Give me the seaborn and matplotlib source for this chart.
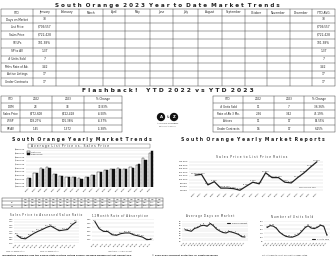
import matplotlib
matplotlib.use("Agg")
import matplotlib.pyplot as plt
from matplotlib.patches import Circle
from matplotlib.ticker import FuncFormatter
import pandas as pd
import seaborn as sns

sns.set_theme(style="whitegrid", context="paper")
plt.rcParams["font.family"] = ["DejaVu Sans"]

# ---- data ----
months = ["January", "February", "March", "April", "May", "June", "July",
          "August", "September", "October", "November", "December"]
ytd_rows = ["Days on Market", "List Price", "Sales Price", "SP/LPs", "SP to AV",
            "# Units Sold", "Mths Rate of Ab.", "Active Listings", "Under Contracts"]
jan_values = ["38", "$709,557", "$722,428", "101.38%", "1.37", "7", "3.42", "17", "17"]

flash_left = [["DOM", "28", "38", "33.83%"],
              ["Sales Price", "$772,608", "$722,428", "-6.50%"],
              ["LP/SP", "108.27%", "101.38%", "-6.37%"],
              ["SP:AV", "1.45", "1.372", "-5.38%"]]
flash_right = [["# Units Sold", "11", "7", "-36.36%"],
               ["Rate of Ab 3 Mo.", "2.36", "3.42", "45.19%"],
               ["Actives", "11", "17", "54.55%"],
               ["Under Contracts", "16", "17", "6.25%"]]

years = [str(y) for y in range(2003, 2023)]
list_price = [525000, 590000, 660000, 665000, 580000, 548000, 540000, 538000, 515000, 535000,
              562000, 600000, 630000, 650000, 655000, 645000, 665000, 695000, 790000, 860000]
sale_price = [520000, 585000, 650000, 660000, 570000, 542000, 535000, 530000, 505000, 530000,
              556000, 596000, 625000, 646000, 650000, 640000, 660000, 705000, 760000, 890000]

spav_years = [str(y) for y in range(2008, 2023)]
sp_av = [0.96, 0.86, 0.84, 0.93, 1.02, 1.09, 1.15, 1.22, 1.27, 1.19, 1.11, 1.13, 1.15, 1.30, 1.40]

abs_years = [str(y) for y in range(2009, 2023)]
absorption = [4.21, 3.35, 3.02, 3.00, 2.62, 2.55, 2.75, 2.83, 2.83, 2.60, 2.48, 2.34, 2.03, 2.08]

sp_lp = [102.5, 102.9, 97.0, 98.8, 95.2, 95.2, 94.9, 94.0, 96.3, 98.5,
         97.6, 103.8, 101.1, 101.1, 98.5, 98.1, 101.1, 103.8, 107.0, 110.0]
dom = [55, 52, 49, 60, 64, 71, 73, 69, 80, 71, 58, 50, 44, 42, 48, 45, 41, 36, 27, 26]
units = [218, 242, 236, 208, 160, 130, 108, 100, 98, 112,
         130, 170, 215, 240, 212, 205, 222, 248, 232, 120]

W, H = 336, 259
fig = plt.figure(figsize=(W / 100, H / 100), dpi=100)
bg = fig.add_axes([0, 0, 1, 1])
bg.set_xlim(0, W)
bg.set_ylim(H, 0)
bg.axis("off")


def rect(x0, y0, x1, y1):
    return [x0 / W, 1 - y1 / H, (x1 - x0) / W, (y1 - y0) / H]


def spaced(s):
    return "  ".join(" ".join(w) for w in s.split(" "))


def grid_table(xs, ys, cells, fs):
    for x in xs:
        bg.plot([x, x], [ys[0], ys[-1]], color="#444", lw=0.35)
    for y in ys:
        bg.plot([xs[0], xs[-1]], [y, y], color="#444", lw=0.35)
    for i, row in enumerate(cells):
        for j, t in enumerate(row):
            bg.text((xs[j] + xs[j + 1]) / 2, (ys[i] + ys[i + 1]) / 2, t,
                    ha="center", va="center", fontsize=fs, color="#222")


# ---- headline table ----
bg.text(167, 5, spaced("South Orange 2023 Year to Date Market Trends"),
        ha="center", va="center", fontsize=4.1, fontweight="bold", color="#222")
xs1 = [1, 33, 56, 79, 103, 125, 150, 173, 198, 222, 245, 267, 290, 312, 335]
ys1 = [9, 16, 23, 31, 39, 47.5, 55.5, 63, 70.5, 78, 85.5]
cells1 = [["YTD"] + months + ["YTD AVG."]]
for name, v in zip(ytd_rows, jan_values):
    cells1.append([name, v] + [""] * 11 + [v])
grid_table(xs1, ys1, cells1, 2.1)

# ---- flashback ----
bg.text(168, 91, spaced("Flashback!  YTD 2022 vs YTD 2023"),
        ha="center", va="center", fontsize=4.3, fontweight="bold", color="#222")
head = ["YTD", "2022", "2023", "% Change"]
ysf = [95.5, 103, 110, 117.5, 125, 132]
grid_table([1, 20, 52, 84, 122], ysf, [head] + flash_left, 2.0)
grid_table([213, 243, 274, 304, 335], ysf, [head] + flash_right, 2.0)

# logo
for cx, letter in [(161, "A"), (174, "Z")]:
    bg.add_patch(Circle((cx, 117), 3.6, color="#111"))
    bg.text(cx, 117, letter, ha="center", va="center", fontsize=2.8,
            color="white", fontweight="bold")
bg.text(167.5, 117, "&", ha="center", va="center", fontsize=2, color="#111")
bg.text(167.5, 123.5, "ALLISON ZIEGERT", ha="center", va="center", fontsize=1.7, color="#333")
bg.text(167.5, 126, "REAL ESTATE GROUP", ha="center", va="center", fontsize=1.2, color="#555")

bg.text(82, 139, spaced("South Orange Yearly Market Trends"),
        ha="center", va="center", fontsize=3.3, fontweight="bold", color="#222")
bg.text(253, 139, spaced("South Orange Yearly Market Reports"),
        ha="center", va="center", fontsize=3.3, fontweight="bold", color="#222")


def style(ax, fs=1.4):
    ax.set_xlabel("")
    ax.set_ylabel("")
    ax.tick_params(axis="both", labelsize=fs, length=0, pad=0.5)
    ax.tick_params(axis="x", rotation=45)
    for lab in ax.get_xticklabels():
        lab.set_ha("right")
        lab.set_rotation_mode("anchor")
    ax.grid(axis="y", color="#d0d0d0", lw=0.3)
    ax.grid(axis="x", visible=False)
    for s in ax.spines.values():
        s.set_visible(False)
    ax.set_facecolor("white")


# ---- bar chart ----
ax1 = fig.add_axes(rect(26, 150, 154, 187))
df = pd.DataFrame({"year": years * 2,
                   "price": list_price + sale_price,
                   "kind": ["List Price"] * len(years) + ["Sales Price"] * len(years)})
sns.barplot(data=df, x="year", y="price", hue="kind", ax=ax1,
            palette={"List Price": "white", "Sales Price": "#111"},
            edgecolor="#111", linewidth=0.3, width=0.7)
ax1.set_ylim(400000, 900000)
ax1.set_yticks(range(400000, 900001, 50000))
ax1.yaxis.set_major_formatter(FuncFormatter(lambda v, p: f"${v:,.0f}"))
style(ax1, 1.5)
ax1.legend(loc="upper left", fontsize=1.5, frameon=False, handlelength=1, handleheight=0.6,
           borderpad=0.2, labelspacing=0.2)
bg.text(70, 145.5, spaced("Average List Price vs. Sales Price"), ha="center", va="center",
        fontsize=2.2, color="#333")
bg.add_patch(plt.Rectangle((28, 143.5), 122, 4, fill=False, lw=0.3, ec="#555"))

# table under bar chart
xs_t = [2, 22] + [22 + 7.05 * (i + 1) for i in range(len(years))]
ys_t = [197.5, 201, 204.5, 208]
cells_t = [[""] + years,
           ["List"] + [f"${v // 1000}k" for v in list_price],
           ["Sale"] + [f"${v // 1000}k" for v in sale_price]]
grid_table(xs_t, ys_t, cells_t, 1.0)

# ---- SP to AV ----
ax2 = fig.add_axes(rect(14, 219, 79, 243))
sns.lineplot(x=spav_years, y=sp_av, ax=ax2, color="#222", lw=0.8)
for i, v in enumerate(sp_av):
    ax2.text(i, v + 0.03, f"{v:.2f}", fontsize=1.2, ha="center", color="#333")
ax2.set_ylim(0.70, 1.50)
ax2.set_yticks([0.7, 0.8, 0.9, 1.0, 1.1, 1.2, 1.3, 1.4, 1.5])
ax2.yaxis.set_major_formatter(FuncFormatter(lambda v, p: f"{v:.2f}"))
style(ax2)
bg.text(46, 215.5, spaced("Sales Price to Assessed Value Ratio"), ha="center", va="center",
        fontsize=1.9, color="#333")
bg.text(6, 251, "2008 Tax Reevaluation", fontsize=1.2, color="#444", va="center")
bg.text(40, 251, "2019 Tax Reevaluation", fontsize=1.2, color="#444", va="center")

# ---- absorption ----
ax3 = fig.add_axes(rect(92, 219, 154, 242))
sns.lineplot(x=abs_years, y=absorption, ax=ax3, color="#222", lw=0.8)
for i, v in enumerate(absorption):
    ax3.text(i, v + 0.08, f"{v:.2f}", fontsize=1.2, ha="center", color="#333")
ax3.set_ylim(1.75, 4.5)
ax3.set_yticks([2.0, 2.5, 3.0, 3.5, 4.0, 4.5])
ax3.yaxis.set_major_formatter(FuncFormatter(lambda v, p: f"{v:.2f}"))
style(ax3)
bg.text(120, 215.5, spaced("12Month Rate of Absorption"), ha="center", va="center",
        fontsize=1.9, color="#333")
bg.text(120, 251, "Less than 6 = seller's market", fontsize=1.2, color="#444",
        ha="center", va="center")

# ---- SP/LP ratios ----
ax4 = fig.add_axes(rect(189, 160, 323, 192))
sns.lineplot(x=years, y=sp_lp, ax=ax4, color="#222", lw=0.9)
for i, v in enumerate(sp_lp):
    ax4.text(i, v + 0.5, f"{v:.2f}%", fontsize=1.3, ha="center", color="#333")
ax4.set_ylim(93, 111)
ax4.set_yticks(range(94, 112, 2))
ax4.yaxis.set_major_formatter(FuncFormatter(lambda v, p: f"{v:.2f}%"))
style(ax4, 1.5)
ax4.text(17.5, 95, "2023 YTD 101.38%", fontsize=1.3, color="#444", ha="center")
bg.text(252, 157.5, spaced("Sales Price to List Price Ratios"), ha="center", va="center",
        fontsize=2.2, color="#333")

# ---- days on market ----
ax5 = fig.add_axes(rect(182, 221, 248, 241))
sns.lineplot(x=years, y=dom, ax=ax5, color="#222", lw=0.8, label="Days on Market")
for i, v in enumerate(dom):
    ax5.text(i, v + 3, str(v), fontsize=1.2, ha="center", color="#333")
ax5.set_ylim(10, 90)
ax5.set_yticks(range(10, 91, 10))
style(ax5)
ax5.legend(loc="upper right", fontsize=1.4, frameon=False, handlelength=1.5, borderpad=0.1)
bg.text(210, 216.5, spaced("Average Days on Market"), ha="center", va="center",
        fontsize=1.9, color="#333")

# ---- units sold ----
ax6 = fig.add_axes(rect(264, 221, 330, 241))
sns.lineplot(x=years, y=units, ax=ax6, color="#222", lw=0.8, label="# Units Sold")
for i, v in enumerate(units):
    ax6.text(i, v + 8, str(v), fontsize=1.2, ha="center", color="#333")
ax6.set_ylim(50, 300)
ax6.set_yticks(range(50, 301, 50))
style(ax6)
ax6.legend(loc="lower right", fontsize=1.4, frameon=False, handlelength=1.5, borderpad=0.1)
bg.text(292, 216.5, spaced("Number of Units Sold"), ha="center", va="center",
        fontsize=1.9, color="#333")

# ---- footer ----
bg.text(2, 255.5, "Information compiled from the Garden State Multiple Listing Service. "
        "Deemed Reliable but not Guaranteed.", fontsize=1.5, fontweight="bold",
        va="center", color="#222")
bg.text(152, 255.5, "\u00a9 2003-2023 Copyright Protected. All Rights Reserved",
        fontsize=1.5, fontweight="bold", va="center", color="#222")
bg.text(285, 255.5, "Not intended to solicit a property already listed.",
        fontsize=1.4, va="center", ha="center", color="#333")

fig.savefig("out.png", dpi=100, facecolor="white")
